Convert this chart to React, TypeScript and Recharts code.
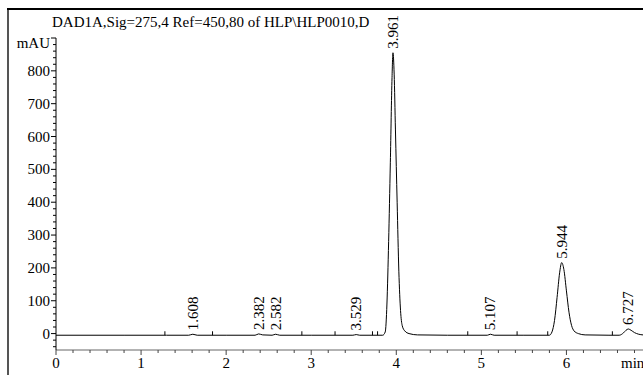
import React from 'react';
import { ComposedChart, Line, Scatter, XAxis, YAxis, ReferenceLine } from 'recharts';

// detector trace, [time (min), signal (mAU)]
const trace: [number, number][] = [
  [0, -5], [0.8, -5], [1.3, -5], [1.56, -5], [1.608, -2], [1.66, -5],
  [2.0, -5], [2.34, -5], [2.382, -1], [2.43, -4], [2.54, -5], [2.582, -2], [2.63, -5],
  [3.0, -5], [3.49, -5], [3.529, -3], [3.57, -5], [3.84, -5],
  [3.87, 5], [3.89, 90], [3.91, 280], [3.93, 520], [3.95, 780], [3.961, 855],
  [3.975, 790], [3.99, 620], [4.01, 400], [4.03, 190], [4.05, 70], [4.07, 24],
  [4.1, 8], [4.15, 0], [4.25, -4], [4.6, -5],
  [5.07, -5], [5.107, -2], [5.15, -5], [5.5, -5], [5.8, -5],
  [5.83, 5], [5.86, 40], [5.89, 110], [5.92, 185], [5.944, 216], [5.97, 195],
  [6.0, 130], [6.03, 65], [6.06, 25], [6.09, 8], [6.14, 0], [6.22, -4],
  [6.5, -5], [6.62, -5], [6.67, 2], [6.7, 10], [6.727, 14], [6.76, 10],
  [6.8, 3], [6.85, -2], [6.9, -4],
];

const peakTimes = [1.608, 2.382, 2.582, 3.529, 3.961, 5.107, 5.944, 6.727];
const peakHeights = [-2, -1, -2, -3, 855, -2, 216, 14];
const peakLabels = ['1.608', '2.382', '2.582', '3.529', '3.961', '5.107', '5.944', '6.727'];

// integration event marks on the baseline
const eventTimes = [1.28, 1.84, 2.89, 3.28, 3.72, 3.78, 4.84, 5.42, 5.78, 6.54];

const xMajor = [0, 1, 2, 3, 4, 5, 6];
const yMajor = [0, 100, 200, 300, 400, 500, 600, 700, 800, 900];

const xTicks: number[] = [];
for (let i = 0; i <= 34; i++) xTicks.push(Math.round(i * 2) / 10);
const yTicks: number[] = [];
for (let v = -40; v <= 900; v += 20) yTicks.push(v);

const FONT = '"Liberation Serif", "DejaVu Serif", serif';
const FS = 15;

const traceData = trace.map(([t, v]) => ({ t, v }));
const peakData = peakTimes.map((t, i) => ({ t, v: peakHeights[i], label: peakLabels[i] }));

const YTick = (props: any) => {
  const { x, y, payload } = props;
  const v = payload.value;
  const major = yMajor.includes(v);
  return (
    <g>
      <line x1={x - (major ? 5 : 3)} x2={x} y1={y} y2={y} stroke="#000" />
      {major && (
        <text x={x - 6} y={v === 900 ? y + 10 : y + 5} textAnchor="end" fontSize={FS} fontFamily={FONT} fill="#000">
          {v === 900 ? 'mAU' : v}
        </text>
      )}
    </g>
  );
};

const XTick = (props: any) => {
  const { x, y, payload } = props;
  const v = payload.value;
  const major = xMajor.some((m) => Math.abs(m - v) < 1e-6);
  return (
    <g>
      <line x1={x} x2={x} y1={y} y2={y + (major ? 5 : 3)} stroke="#444" />
      {major && (
        <text x={x} y={y + 18} textAnchor="middle" fontSize={FS} fontFamily={FONT} fill="#000">
          {Math.round(v)}
        </text>
      )}
    </g>
  );
};

const PeakLabel = (props: any) => {
  const { cx, cy, payload } = props;
  const ty = cy - 4;
  return (
    <text
      x={cx}
      y={ty}
      transform={`rotate(-90, ${cx}, ${ty})`}
      textAnchor="start"
      dominantBaseline="central"
      fontSize={FS}
      fontFamily={FONT}
      fill="#000"
    >
      {payload.label}
    </text>
  );
};

export default function App() {
  return (
    <div style={{ position: 'absolute', left: 0, top: 0, width: 643, height: 375, background: '#fff', overflow: 'hidden' }}>
      <div style={{ position: 'absolute', left: 7, top: 8, width: 2, height: 367, background: '#555' }} />
      <div style={{ position: 'absolute', left: 7, top: 8, width: 636, height: 2, background: '#000' }} />
      <div style={{ position: 'absolute', left: 52, top: 14, fontFamily: FONT, fontSize: FS, lineHeight: '17px', whiteSpace: 'nowrap' }}>
        DAD1A,Sig=275,4 Ref=450,80 of HLP\HLP0010,D
      </div>
      <div style={{ position: 'absolute', left: 621, top: 355, fontFamily: FONT, fontSize: FS, lineHeight: '17px' }}>min</div>
      <ComposedChart width={643} height={375} margin={{ top: 38, right: 0, bottom: 5, left: 8 }} style={{ position: 'absolute', left: 0, top: 0 }}>
        <XAxis
          type="number"
          dataKey="t"
          domain={[0, 6.9]}
          ticks={xTicks}
          interval={0}
          tickSize={0}
          tickMargin={0}
          tickLine={false}
          tick={XTick}
          height={20}
          stroke="#666"
        />
        <YAxis
          type="number"
          domain={[-50, 900]}
          ticks={yTicks}
          interval={0}
          tickSize={0}
          tickMargin={0}
          tickLine={false}
          tick={YTick}
          width={48}
          stroke="#000"
        />
        {eventTimes.map((t) => (
          <ReferenceLine
            key={t}
            segment={[{ x: t, y: -5 }, { x: t, y: 7 }]}
            stroke="#000"
            strokeWidth={1}
          />
        ))}
        <Line data={traceData} dataKey="v" type="monotone" dot={false} stroke="#000" strokeWidth={1} isAnimationActive={false} />
        <Scatter data={peakData} dataKey="v" shape={PeakLabel} isAnimationActive={false} />
      </ComposedChart>
    </div>
  );
}
